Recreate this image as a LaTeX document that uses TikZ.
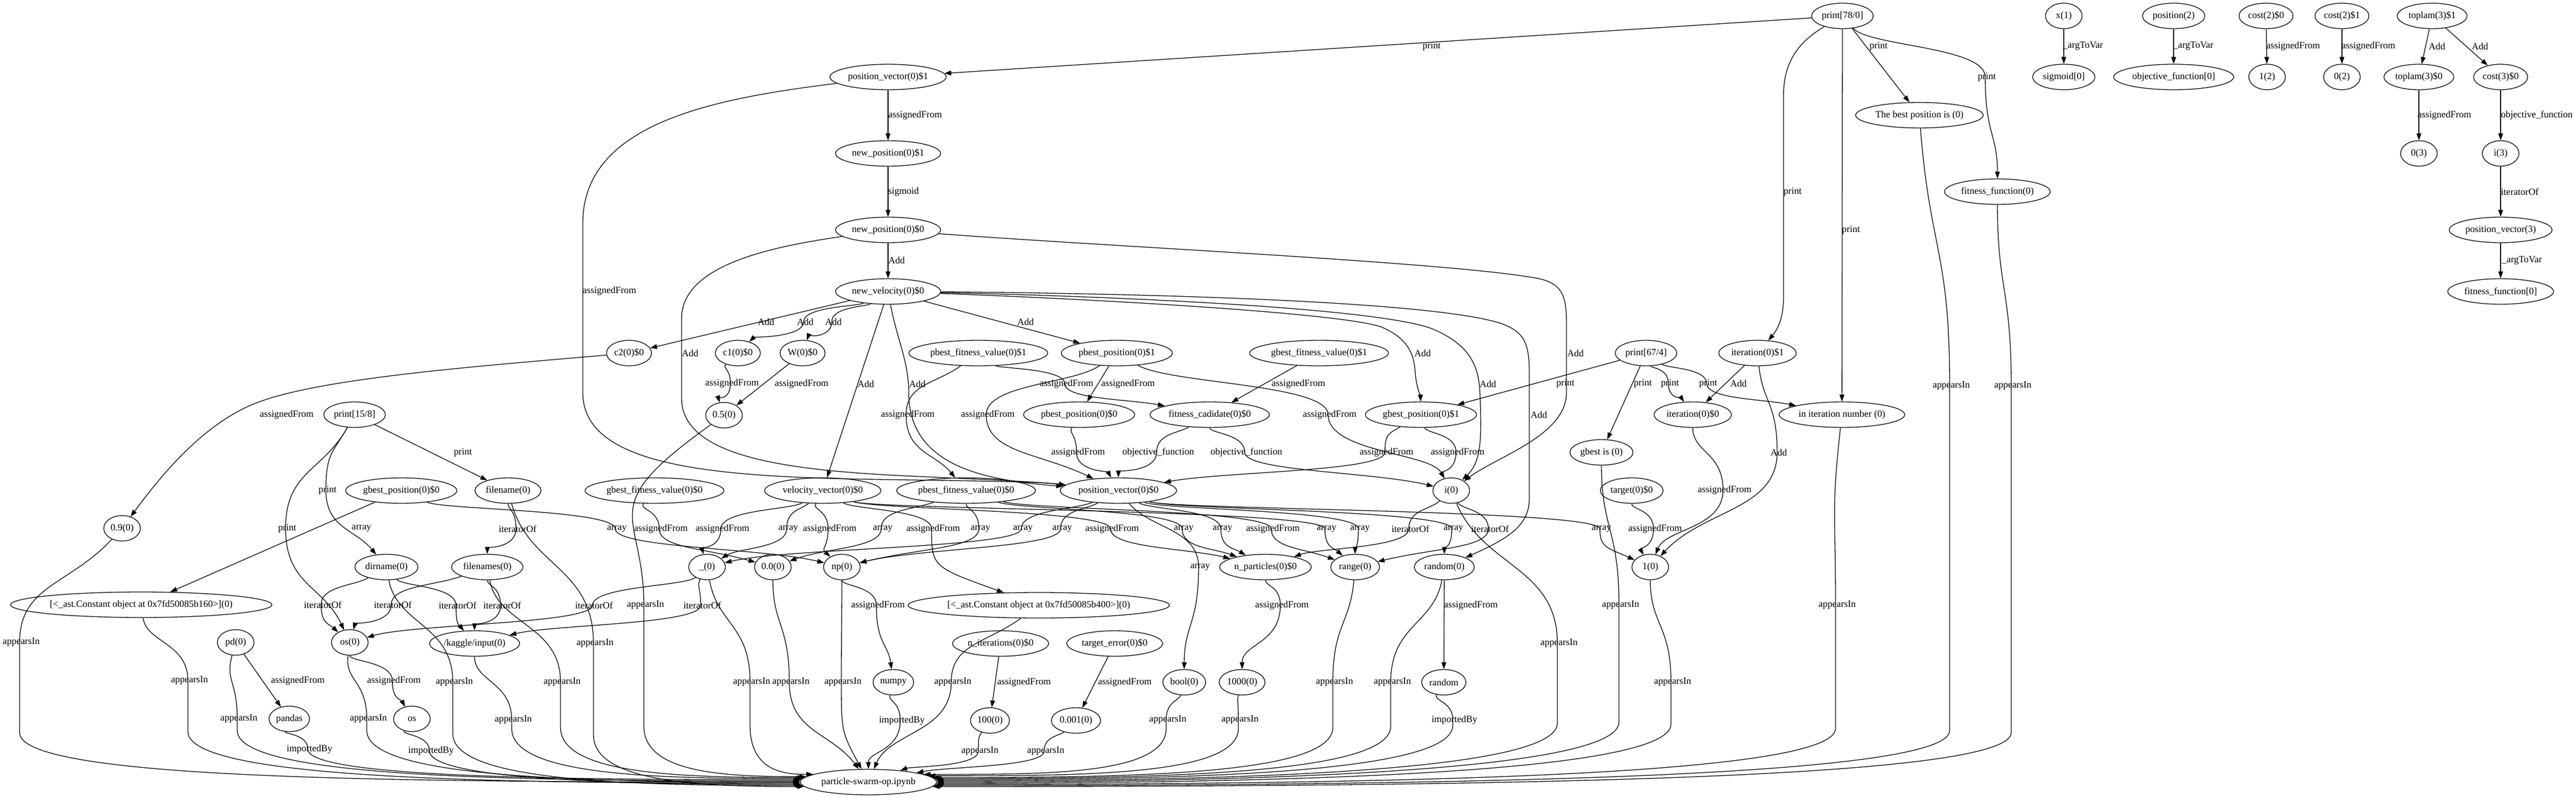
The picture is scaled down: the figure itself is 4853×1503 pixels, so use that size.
\documentclass[tikz,border=0pt]{standalone}
\usepackage{fontspec}
\setmainfont{Liberation Serif}
\usetikzlibrary{arrows.meta,shapes.geometric}
\newcommand\lblfont{\fontsize{18pt}{21pt}\selectfont}
\newlength\qlw
\newcounter{qlab}
\tikzset{
  nd/.style={draw,ellipse,line width=1.3pt,inner xsep=2pt,inner ysep=0pt,minimum height=48pt,minimum width=69pt,font=\lblfont},
  conn/.style={line width=1.3pt,-{Triangle[length=13pt,width=9pt]}},
  lbl/.style={inner sep=0pt,font=\lblfont},
}
\newcommand\Nd[4]{\expandafter\def\csname px@#1\endcsname{#2}\expandafter\def\csname py@#1\endcsname{#3}\node[nd] (#1) at (#2,#3) {#4};}
\newcommand\Lb[3]{\stepcounter{qlab}\node[lbl] (lab\theqlab) at (#1,#2) {#3};}
\newcommand\St[5]{\draw[conn] (#1) -- (#2);\Lb{#3}{#4}{#5}}
\newcommand\Cu[4]{\draw[conn] #4;\Lb{#1}{#2}{#3}}
\newcommand\Ed[7]{%
  \settowidth\qlw{\lblfont #7}%
  \pgfmathsetmacro\qvx{#5-0.5*\qlw-3}%
  \pgfmathsetmacro\qsx{\csname px@#1\endcsname+(#2)}%
  \pgfmathsetmacro\qma{0.5*(\csname py@#1\endcsname+#6)}%
  \pgfmathsetmacro\qtx{\csname px@#3\endcsname+(#4)}%
  \pgfmathsetmacro\qmb{0.5*(\csname py@#3\endcsname+#6)}%
  \draw[conn] (#1) .. controls (\qsx,\qma) and (\qvx,\qma) .. (\qvx,#6) .. controls (\qvx,\qmb) and (\qtx,\qmb) .. (#3);%
  \Lb{#5}{#6}{#7}}
\newcommand\Ap[8]{%
  \settowidth\qlw{\lblfont #5}%
  \pgfmathsetmacro\qvx{#3-0.5*\qlw-3}%
  \pgfmathsetmacro\qsx{\csname px@#1\endcsname+(#2)}%
  \pgfmathsetmacro\qma{0.5*(\csname py@#1\endcsname+#4)}%
  \pgfmathsetmacro\qyb{max(#4,#8-90)}%
  \pgfmathsetmacro\qh{0.5*(\qvx-(#7))}%
  \draw[conn] (#1) .. controls (\qsx,\qma) and (\qvx,\qma) .. (\qvx,#4) -- (\qvx,\qyb) .. controls (\qvx,#8) and +(\qh,0) .. (ipynb.#6);%
  \Lb{#3}{#4}{#5}}
\begin{document}
\begin{tikzpicture}[x=1pt,y=-1pt]
\fill[white] (0,0) rectangle (4853,1503);
\useasboundingbox (0,0) rectangle (4853,1503);
% ---------------- nodes
\Nd{print78}{3471}{30}{print[78/0]}
\Nd{x1}{3888}{30}{x(1)}
\Nd{pos2}{4095}{30}{position(2)}
\Nd{cost2a}{4269}{30}{cost(2)\$0}
\Nd{cost2b}{4412}{30}{cost(2)\$1}
\Nd{toplam1}{4582}{30}{toplam(3)\$1}
\Nd{pv1}{1673}{145}{position\_vector(0)\$1}
\Nd{sig0}{3888}{145}{sigmoid[0]}
\Nd{obj0}{4095}{145}{objective\_function[0]}
\Nd{one2}{4271}{145}{1(2)}
\Nd{zero2}{4412}{145}{0(2)}
\Nd{toplam0}{4557}{145}{toplam(3)\$0}
\Nd{cost3}{4711}{145}{cost(3)\$0}
\Nd{best}{3616}{217}{The best position is (0)}
\Nd{np1}{1673}{289}{new\_position(0)\$1}
\Nd{zero3}{4557}{289}{0(3)}
\Nd{i3}{4711}{289}{i(3)}
\Nd{fitfun}{3763}{361}{fitness\_function(0)}
\Nd{np0}{1673}{433}{new\_position(0)\$0}
\Nd{pv3}{4711}{433}{position\_vector(3)}
\Nd{nv}{1673}{549}{new\_velocity(0)\$0}
\Nd{ff0}{4711}{549}{fitness\_function[0]}
\Nd{c2}{1185}{665}{c2(0)\$0}
\Nd{c1}{1390}{665}{c1(0)\$0}
\Nd{W}{1512}{665}{W(0)\$0}
\Nd{pfv1}{1843}{665}{pbest\_fitness\_value(0)\$1}
\Nd{pbp1}{2104}{665}{pbest\_position(0)\$1}
\Nd{gfv1}{2485}{665}{gbest\_fitness\_value(0)\$1}
\Nd{pr67}{3101}{665}{print[67/4]}
\Nd{it1}{3311}{665}{iteration(0)\$1}
\Nd{p15}{668}{781}{print[15/8]}
\Nd{half}{1364}{782}{0.5(0)}
\Nd{pbp0}{2033}{781}{pbest\_position(0)\$0}
\Nd{fc}{2279}{781}{fitness\_cadidate(0)\$0}
\Nd{gbp1}{2677}{781}{gbest\_position(0)\$1}
\Nd{it0}{3189}{781}{iteration(0)\$0}
\Nd{iin}{3470}{781}{in iteration number (0)}
\Nd{gis}{3017}{852}{gbest is (0)}
\Nd{gbp0}{756}{924}{gbest\_position(0)\$0}
\Nd{fname}{957}{924}{filename(0)}
\Nd{gfv0}{1233}{924}{gbest\_fitness\_value(0)\$0}
\Nd{vv}{1550}{924}{velocity\_vector(0)\$0}
\Nd{pfv0}{1820}{924}{pbest\_fitness\_value(0)\$0}
\Nd{pv0}{2107}{924}{position\_vector(0)\$0}
\Nd{i0}{2734}{924}{i(0)}
\Nd{tgt}{3074}{924}{target(0)\$0}
\Nd{p9}{230}{995}{0.9(0)}
\Nd{dirn}{728}{1068}{dirname(0)}
\Nd{fnames}{918}{1068}{filenames(0)}
\Nd{us}{1332}{1068}{\_(0)}
\Nd{zz}{1456}{1068}{0.0(0)}
\Nd{npm}{1586}{1068}{np(0)}
\Nd{npart}{2384}{1068}{n\_particles(0)\$0}
\Nd{rng}{2553}{1068}{range(0)}
\Nd{rnd}{2721}{1068}{random(0)}
\Nd{one0}{3109}{1068}{1(0)}
\Nd{cb160}{266}{1139}{[<\_ast.Constant object at 0x7fd50085b160>](0)}
\Nd{cb400}{1957}{1140}{[<\_ast.Constant object at 0x7fd50085b400>](0)}
\Nd{pd}{444}{1210}{pd(0)}
\Nd{os0}{659}{1210}{os(0)}
\Nd{kag}{894}{1212}{/kaggle/input(0)}
\Nd{nit}{1885}{1212}{n\_iterations(0)\$0}
\Nd{terr}{2100}{1212}{target\_error(0)\$0}
\Nd{numpy}{1683}{1285}{numpy}
\Nd{bool}{2231}{1285}{bool(0)}
\Nd{k1000}{2340}{1285}{1000(0)}
\Nd{random}{2720}{1285}{random}
\Nd{pandas}{545}{1354}{pandas}
\Nd{os}{776}{1354}{os}
\Nd{h100}{1865}{1357}{100(0)}
\Nd{e001}{2027}{1357}{0.001(0)}
\Nd{ipynb}{1636}{1473}{particle-swarm-op.ipynb}
% ---------------- straight connectors
\St{print78}{pv1}{2697}{87}{print}
\St{print78}{best}{3539}{87}{print}
\St{print78}{iin}{3487}{433}{print}
\St{pv1}{np1}{1724}{217}{assignedFrom}
\St{np1}{np0}{1702}{361}{sigmoid}
\St{np0}{nv}{1689}{490}{Add}
\St{nv}{c2}{1443}{606}{Add}
\St{nv}{vv}{1631}{723}{Add}
\St{nv}{pbp1}{1932}{606}{Add}
\St{gbp0}{cb160}{681}{995}{array}
\St{p15}{fname}{872}{852}{print}
\St{gfv1}{fc}{2446}{723}{assignedFrom}
\St{pbp1}{pbp0}{2125}{723}{assignedFrom}
\St{W}{half}{1510}{723}{assignedFrom}
\St{pd}{pandas}{561}{1282}{assignedFrom}
\St{pr67}{gbp1}{2949}{722}{print}
\St{pr67}{gis}{3095}{722}{print}
\St{it1}{it0}{3275}{722}{Add}
\St{nit}{h100}{1929}{1285}{assignedFrom}
\St{terr}{e001}{2119}{1285}{assignedFrom}
\St{rnd}{random}{2771}{1140}{assignedFrom}
\St{x1}{sig0}{3924}{87}{\_argToVar}
\St{pos2}{obj0}{4132}{87}{\_argToVar}
\St{cost2a}{one2}{4320}{87}{assignedFrom}
\St{cost2b}{zero2}{4462}{87}{assignedFrom}
\St{toplam1}{toplam0}{4591}{87}{Add}
\St{toplam1}{cost3}{4672}{87}{Add}
\St{toplam0}{zero3}{4605}{217}{assignedFrom}
\St{cost3}{i3}{4779}{217}{objective\_function}
\St{i3}{pv3}{4747}{361}{iteratorOf}
\St{pv3}{ff0}{4751}{491}{\_argToVar}
% ---------------- hand-routed connectors
\Cu{3377}{361}{print}{(print78) .. controls (3395,75) and (3360,110) .. (3360,180) -- (3360,560) .. controls (3360,605) and (3345,625) .. (it1)}
\Cu{1148}{548}{assignedFrom}{(pv1) .. controls (1350,185) and (1098,230) .. (1098,420) -- (1098,740) .. controls (1098,880) and (1350,898) .. (1650,903) .. controls (1850,906) and (1950,907) .. (pv0)}
\Cu{1300}{665}{Add}{(np0) .. controls (1450,465) and (1284,500) .. (1284,600) -- (1284,750) .. controls (1284,860) and (1480,885) .. (1700,896) .. controls (1850,903) and (1950,907) .. (pv0)}
\Cu{1728}{723}{Add}{(nv) .. controls (1690,640) and (1712,680) .. (1712,740) .. controls (1712,880) and (1860,905) .. (pv0)}
\Cu{2968}{665}{Add}{(np0) .. controls (2100,465) and (2750,495) .. (2900,525) .. controls (2945,535) and (2951,560) .. (2951,610) -- (2951,740) .. controls (2951,820) and (2820,860) .. (i0)}
\Cu{2899}{781}{Add}{(nv) .. controls (2100,552) and (2700,565) .. (2830,610) .. controls (2870,625) and (2881,645) .. (2881,700) -- (2881,940) .. controls (2881,990) and (2840,1015) .. (rnd)}
\Cu{2680}{665}{Add}{(nv) .. controls (2100,565) and (2520,590) .. (2600,615) .. controls (2650,635) and (2664,665) .. (2666,700) .. controls (2668,730) and (2676,745) .. (gbp1)}
\Cu{2803}{723}{Add}{(nv) .. controls (2100,558) and (2600,580) .. (2700,620) .. controls (2770,650) and (2786,690) .. (2788,740) .. controls (2792,830) and (2790,870) .. (i0)}
\Cu{540}{781}{assignedFrom}{(c2) .. controls (900,690) and (600,712) .. (480,760) .. controls (380,800) and (300,900) .. (p9)}
% ---------------- curved connectors through their labels
\Ed{print78}{50}{fitfun}{0}{3743}{145}{print}
\Ed{nv}{-60}{c1}{30}{1517}{606}{Add}
\Ed{nv}{-40}{W}{10}{1570}{606}{Add}
\Ed{c1}{-30}{half}{-10}{1379}{722}{assignedFrom}
\Ed{gbp0}{80}{npm}{-150}{1162}{996}{array}
\Ed{gfv0}{-30}{zz}{-130}{1245}{996}{assignedFrom}
\Ed{vv}{-60}{us}{-10}{1361}{996}{assignedFrom}
\Ed{vv}{-40}{us}{60}{1485}{996}{array}
\Ed{vv}{-20}{npm}{-40}{1563}{996}{assignedFrom}
\Ed{pfv0}{-100}{zz}{100}{1663}{996}{array}
\Ed{vv}{60}{cb400}{-200}{1758}{996}{assignedFrom}
\Ed{pfv0}{0}{npm}{150}{1847}{996}{array}
\Ed{pv0}{-80}{us}{150}{1927}{996}{array}
\Ed{pv0}{-60}{npm}{150}{2001}{996}{array}
\Ed{vv}{100}{npart}{-150}{2095}{996}{assignedFrom}
\Ed{pfv0}{100}{npart}{-100}{2230}{996}{array}
\Ed{pv0}{60}{npart}{-60}{2303}{996}{array}
\Ed{pfv0}{120}{rng}{-100}{2398}{996}{assignedFrom}
\Ed{vv}{100}{rng}{-40}{2499}{996}{array}
\Ed{pv0}{80}{rng}{0}{2562}{996}{array}
\Ed{i0}{-40}{npart}{100}{2657}{996}{iteratorOf}
\Ed{pv0}{100}{rnd}{0}{2738}{996}{array}
\Ed{i0}{20}{rng}{150}{2807}{996}{iteratorOf}
\Ed{pv0}{100}{one0}{-80}{3017}{996}{array}
\Ed{tgt}{0}{one0}{-20}{3118}{996}{assignedFrom}
\Ed{pv0}{60}{bool}{0}{2261}{1068}{array}
\Ed{pfv1}{40}{fc}{-150}{2009}{723}{assignedFrom}
\Ed{pfv1}{-80}{pfv0}{-60}{1710}{781}{assignedFrom}
\Ed{pbp1}{-80}{pv0}{-150}{1861}{781}{assignedFrom}
\Ed{pbp1}{100}{i0}{-40}{2505}{781}{assignedFrom}
\Ed{pbp0}{-20}{pv0}{-20}{2031}{852}{assignedFrom}
\Ed{fc}{-60}{pv0}{0}{2182}{852}{objective\_function}
\Ed{fc}{0}{i0}{-150}{2348}{852}{objective\_function}
\Ed{gbp1}{-60}{pv0}{200}{2612}{852}{assignedFrom}
\Ed{gbp1}{10}{i0}{-20}{2746}{852}{assignedFrom}
\Ed{pr67}{10}{it0}{-20}{3146}{722}{print}
\Ed{pr67}{40}{iin}{-150}{3218}{722}{print}
\Ed{it1}{10}{one0}{100}{3351}{852}{Add}
\Ed{it0}{0}{one0}{30}{3249}{923}{assignedFrom}
\Ed{p15}{-60}{os0}{-50}{541}{995}{print}
\Ed{p15}{-40}{dirn}{-60}{617}{923}{print}
\Ed{dirn}{-60}{os0}{-40}{608}{1139}{iteratorOf}
\Ed{fnames}{-100}{os0}{10}{740}{1139}{iteratorOf}
\Ed{us}{-40}{os0}{120}{1119}{1140}{iteratorOf}
\Ed{dirn}{30}{kag}{-30}{862}{1140}{iteratorOf}
\Ed{fnames}{0}{kag}{0}{946}{1140}{iteratorOf}
\Ed{us}{-20}{kag}{150}{1323}{1140}{iteratorOf}
\Ed{fname}{0}{fnames}{0}{975}{996}{iteratorOf}
\Ed{npm}{0}{numpy}{-10}{1654}{1140}{assignedFrom}
\Ed{npart}{0}{k1000}{0}{2415}{1140}{assignedFrom}
\Ed{os0}{0}{os}{-20}{742}{1282}{assignedFrom}
% ---------------- into the notebook node
\Ed{zz}{0}{ipynb}{-70}{1490}{1285}{appearsIn}
\Ed{npm}{0}{ipynb}{-50}{1588}{1285}{appearsIn}
\Ed{numpy}{-10}{ipynb}{0}{1699}{1357}{importedBy}
\Ed{cb400}{-100}{ipynb}{40}{1795}{1285}{appearsIn}
\Ed{h100}{-20}{ipynb}{80}{1846}{1415}{appearsIn}
\Ed{e001}{-30}{ipynb}{150}{1970}{1415}{appearsIn}
\Ap{p9}{-100}{40}{1210}{appearsIn}{180}{1506}{1470}
\Ap{cb160}{10}{357}{1282}{appearsIn}{181}{1506}{1468}
\Ap{pd}{-20}{450}{1354}{appearsIn}{179}{1506}{1466}
\Ap{pandas}{-10}{583}{1411}{importedBy}{178}{1506}{1464}
\Ap{os0}{-10}{694}{1354}{appearsIn}{180}{1506}{1466}
\Ap{os}{-20}{812}{1414}{importedBy}{182}{1506}{1468}
\Ap{dirn}{20}{856}{1285}{appearsIn}{183}{1506}{1472}
\Ap{kag}{0}{967}{1356}{appearsIn}{177}{1506}{1462}
\Ap{fnames}{20}{1059}{1285}{appearsIn}{176}{1506}{1460}
\Ap{fname}{40}{1121}{1212}{appearsIn}{184}{1506}{1474}
\Ap{half}{-250}{1216}{1140}{appearsIn}{175}{1506}{1458}
\Ap{us}{20}{1416}{1285}{appearsIn}{172}{1512}{1456}
\Ap{bool}{-10}{2200}{1356}{appearsIn}{8}{1766}{1462}
\Ap{k1000}{-10}{2336}{1356}{appearsIn}{6}{1766}{1462}
\Ap{rng}{-10}{2514}{1285}{appearsIn}{4}{1766}{1460}
\Ap{rnd}{-20}{2623}{1285}{appearsIn}{3}{1766}{1458}
\Ap{random}{-20}{2740}{1356}{importedBy}{2}{1766}{1456}
\Ap{i0}{60}{2937}{1212}{appearsIn}{1}{1766}{1452}
\Ap{gis}{0}{3053}{1140}{appearsIn}{0}{1766}{1450}
\Ap{one0}{0}{3151}{1285}{appearsIn}{359}{1766}{1454}
\Ap{iin}{-20}{3461}{1140}{appearsIn}{358}{1766}{1462}
\Ap{best}{20}{3676}{727}{appearsIn}{357}{1766}{1466}
\Ap{fitfun}{0}{3792}{727}{appearsIn}{356}{1766}{1470}
\end{tikzpicture}
\end{document}
